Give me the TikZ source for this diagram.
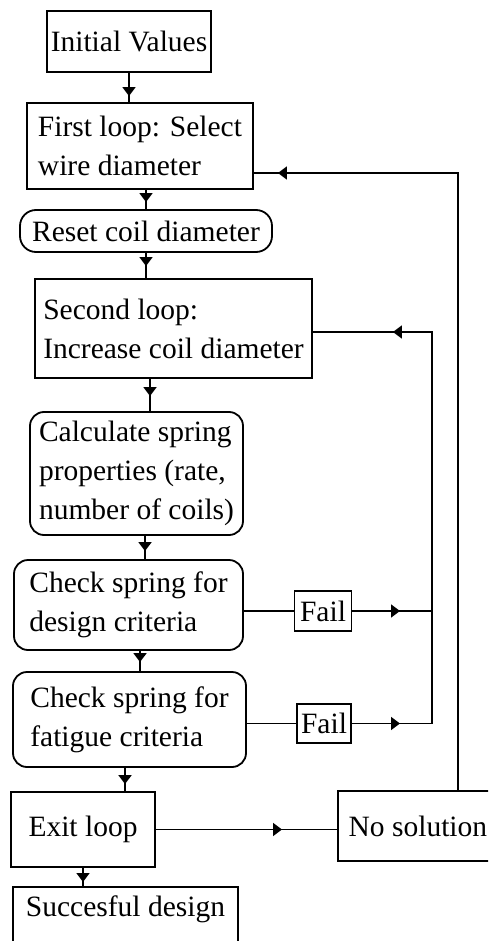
\documentclass[tikz,border=0pt]{standalone}
\usepackage{fontspec}
\setmainfont{Liberation Serif}
\usetikzlibrary{arrows.meta, decorations.markings}
\tikzset{
x=1pt, y=-1pt, % coordinates are given in pixels, downwards
wire/.style={line width=1.8pt}, % sets the properties of every connector
arrowat/.style={wire, postaction={decorate, decoration={markings, mark=at position #1 with {\arrow{Triangle[length=9pt, width=13pt]}}}}}, % arrow tip placed on the line
}

\begin{document}
\begin{tikzpicture}[box/.style = {draw, line width=1.8pt, align=left, inner sep=0pt, font=\fontsize{29.5}{39}\selectfont}, rbox/.style = {box, rounded corners=14pt}]
    \useasboundingbox (0,0) rectangle (488,941);
    \clip (0,0) rectangle (488,941);
    \node[box, minimum width=164pt, minimum height=61pt] (1) at (129,41.5) {Initial Values};
    \node[box, minimum width=226pt, minimum height=86pt] (2) at (140,146) {First loop: Select\\wire diameter};
    \node[rbox, minimum width=252pt, minimum height=42pt, rounded corners=16pt] (3) at (146,231) {Reset coil diameter};
    \node[box, minimum width=277pt, minimum height=99pt] (4) at (173.5,328.5) {Second loop:\\Increase coil diameter};
    \node[rbox, minimum width=213pt, minimum height=123pt] (5) at (136.5,473.5) {Calculate spring\\properties (rate,\\number of coils)};
    \node[rbox, minimum width=229pt, minimum height=90pt] (6) at (128.5,605) {Check spring for\\design criteria};
    \node[rbox, minimum width=233pt, minimum height=95pt] (7) at (129.5,719.5) {Check spring for\\fatigue criteria};
    \node[box, minimum width=144pt, minimum height=75pt] (8) at (83,829.5) {Exit loop};
    \node[box, anchor=north, minimum width=225pt, inner ysep=10pt, text height=20pt, text depth=60pt] (9) at (125.5,886) {Succesful design};
    \node[box, anchor=north west, minimum width=160pt, minimum height=70pt] (10) at (337,790) {No solution};
    \node[box, minimum width=57pt, minimum height=40pt] (11) at (323,611) {Fail};
    \node[box, minimum width=54pt, minimum height=39pt] (12) at (324,723.5) {Fail};
    \coordinate (o1) at (458,173);
    \coordinate (o2) at (432,332);
    % main line
    \draw[arrowat=-6pt] (1.south) -- (1.south |- 2.north);
    \draw[arrowat=-7pt] (3.north |- 2.south) -- (3.north);
    \draw[arrowat=-12pt] (3.south) -- (3.south |- 4.north);
    \draw[arrowat=-15pt] ([xshift=-23.5pt]4.south) -- ([xshift=-23.5pt]4.south |- 5.north);
    \draw[arrowat=-8pt] ([xshift=8.5pt]5.south) -- ([xshift=8.5pt]5.south |- 6.north);
    \draw[arrowat=-9pt] ([xshift=11.5pt]6.south) -- ([xshift=11.5pt]6.south |- 7.north);
    \draw[arrowat=-7pt] ([xshift=-4.5pt]7.south) -- ([xshift=-4.5pt]7.south |- 8.north);
    \draw[arrowat=-4pt] (8.south) -- (8.south |- 9.north);
    % failures
    \draw[wire] (6.east |- 11.west) -- (11.west);
    \draw[arrowat=-32pt] (11.east) -- (11.east -| o2);
    \draw[wire] (7.east |- 12.west) -- (12.west);
    \draw[arrowat=-32pt] (12.east) -- (12.east -| o2);
    \draw[arrowat=-55pt] (8.east) -- (8.east -| 10.west);
    % loops back
    \draw[arrowat=-80pt] (12.east -| o2) -- (o2) -- (o2 -| 4.east);
    \draw[arrowat=-24pt] (10.north -| o1) -- (o1) -- (o1 -| 2.east);
\end{tikzpicture}
\end{document}
